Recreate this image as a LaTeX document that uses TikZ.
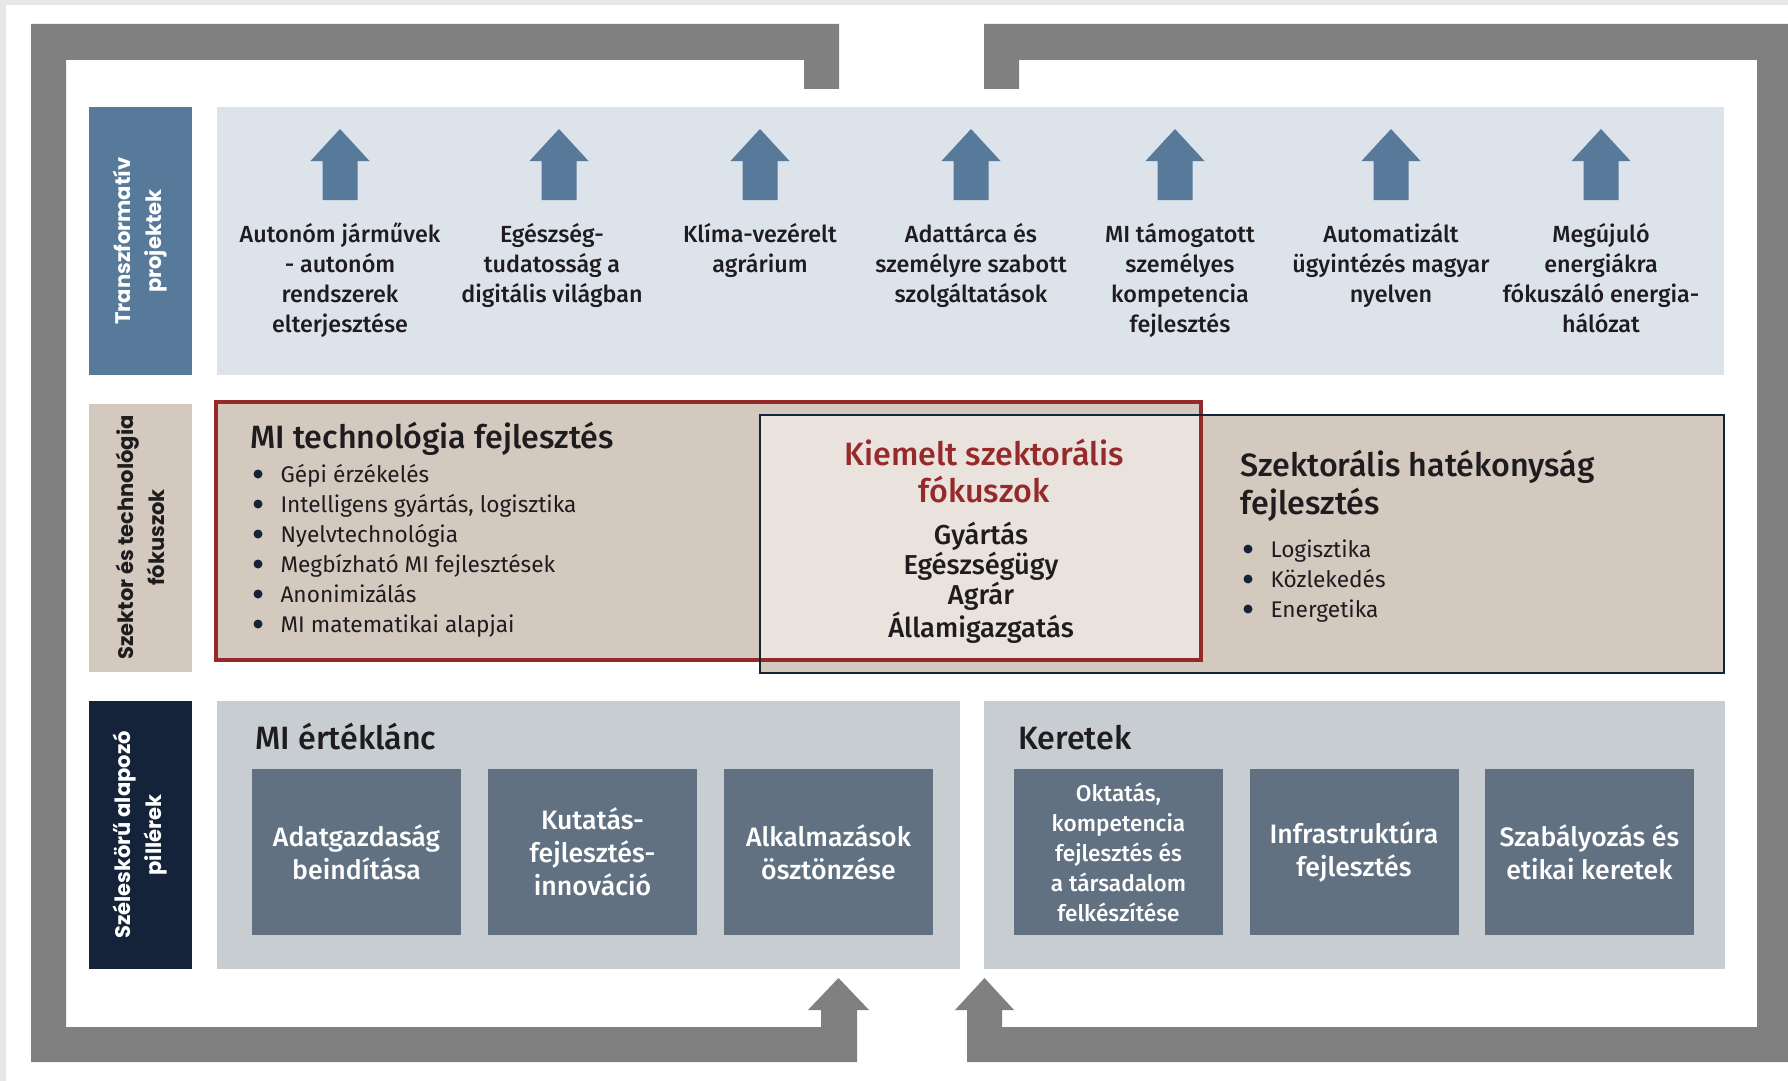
\documentclass[tikz,border=0pt]{standalone}
\usepackage{fontspec}
\setmainfont{Fira Sans}
\newfontfamily\medfont{Fira Sans Medium}
\newfontfamily\lblfont{Poppins}

\definecolor{pagegray}{RGB}{232,230,231}
\definecolor{framegray}{RGB}{128,128,128}
\definecolor{projblue}{RGB}{88,122,154}
\definecolor{projpanel}{RGB}{220,227,234}
\definecolor{focustan}{RGB}{212,201,191}
\definecolor{focuslight}{RGB}{233,226,221}
\definecolor{focusred}{RGB}{150,42,42}
\definecolor{navyline}{RGB}{22,36,58}
\definecolor{pillarnavy}{RGB}{20,35,58}
\definecolor{pillarpanel}{RGB}{200,205,210}
\definecolor{pillarbox}{RGB}{98,113,129}
\definecolor{txtdark}{RGB}{30,28,30}

\newcommand\px{0.75pt}

\tikzset{every picture/.style={line width=0.75pt}}
\tikzset{
	side label/.style={rotate=90, fill=#1, text=white, align=center, inner sep=0,
		minimum width=268*\px, minimum height=103*\px,
		font=\lblfont\bfseries\fontsize{15.8}{23.25}\selectfont},
	proj label/.style={align=center, inner sep=0, text=txtdark,
		font=\medfont\fontsize{17.5}{22.5}\selectfont},
	group title/.style={inner sep=0, text=txtdark,
		font=\medfont\fontsize{24.2}{28.5}\selectfont},
	bullet list/.style={align=left, inner sep=0, text=txtdark,
		font=\fontsize{17}{22.5}\selectfont},
	bullet dot/.style={fill=navyline},
	pillar box/.style={fill=pillarbox, text=white, align=center, inner sep=0,
		minimum width=209*\px, minimum height=166*\px,
		font=\medfont\fontsize{20}{24.75}\selectfont}
}

\begin{document}
\begin{tikzpicture}[x=0.75pt,y=0.75pt,yscale=-1,xscale=1]
	\useasboundingbox (0,0) rectangle (1788,1081);

	%Shape: page background
	\fill[pagegray] (0,0) rectangle (1788,1081);
	\fill[white] (6,5) rectangle (1788,1081);

	%Frame: left part with arrow
	\fill[framegray] (804,89) -- (804,60) -- (66,60) -- (66,1027) -- (821,1027) -- (821,1010) -- (808,1010) -- (838.5,978) -- (869,1010) -- (857,1010) -- (857,1062) -- (31,1062) -- (31,24) -- (839,24) -- (839,89) -- cycle ;
	%Frame: right part with arrow
	\fill[framegray] (1019,89) -- (1019,60) -- (1757,60) -- (1757,1027) -- (1002,1027) -- (1002,1010) -- (1014,1010) -- (984.5,978) -- (955,1010) -- (967,1010) -- (967,1062) -- (1788,1062) -- (1788,24) -- (984,24) -- (984,89) -- cycle ;

	%Row labels
	\node[side label=projblue] (lblproj) at (140,241) {Transzformatív\\projektek};
	\node[side label=focustan] (lblfocus) at (140.5,537.5) {\color{txtdark}Szektor és technológia\\\color{txtdark}fókuszok};
	\node[side label=pillarnavy] (lblpillar) at (140.5,835) {Széleskörű alapozó\\pillérek};

	%Shape: Rectangle, projects panel
	\fill[projpanel] (217,107) rectangle (1724,375);
	%Up arrows
	\foreach \cx in {340,559,760,971,1175,1391,1601}
		\fill[projblue] (\cx-17.5,200) -- (\cx-17.5,161) -- (\cx-29.5,161) -- (\cx,129) -- (\cx+29.5,161) -- (\cx+17.5,161) -- (\cx+17.5,200) -- cycle ;

	% Text Node
	\node[proj label] (proj1) at (340,280) {Autonóm járművek\\- autonóm\\rendszerek\\elterjesztése};
	% Text Node
	\node[proj label] (proj2) at (552,265) {Egészség-\\tudatosság a\\digitális világban};
	% Text Node
	\node[proj label] (proj3) at (760,250) {Klíma-vezérelt\\agrárium};
	% Text Node
	\node[proj label] (proj4) at (971,265) {Adattárca és\\személyre szabott\\szolgáltatások};
	% Text Node
	\node[proj label] (proj5) at (1180,280) {MI támogatott\\személyes\\kompetencia\\fejlesztés};
	% Text Node
	\node[proj label] (proj6) at (1391,265) {Automatizált\\ügyintézés magyar\\nyelven};
	% Text Node
	\node[proj label] (proj7) at (1601,278) {Megújuló\\energiákra\\fókuszáló energia-\\hálózat};

	%Shape: focus boxes
	\fill[focustan] (216,402) rectangle (1201,660);
	\fill[focustan] (760,415) rectangle (1724,673);
	\fill[focuslight] (760,415) rectangle (1201,660);
	\draw[focusred, line width=2.6] (216,402) rectangle (1201,660);
	\draw[navyline, line width=2.2] (760,415) rectangle (1724,673);

	% Text Node
	\node[group title, anchor=base west] (techtitle) at (250,448) {MI technológia fejlesztés};
	\node[bullet list, anchor=west] (techlist) at (280,551) {Gépi érzékelés\\Intelligens gyártás, logisztika\\Nyelvtechnológia\\Megbízható MI fejlesztések\\Anonimizálás\\MI matematikai alapjai};
	\foreach \y in {474,504,534,564,594,624}
		\fill[bullet dot] (258,\y) circle (4.5);
	% Text Node
	\node[group title, align=center, text=focusred, font=\medfont\fontsize{24.2}{27.75}\selectfont] (keytitle) at (984,471) {Kiemelt szektorális\\fókuszok};
	\node[proj label, font=\medfont\fontsize{20.5}{22.5}\selectfont] (keylist) at (981,583) {Gyártás\\Egészségügy\\Agrár\\Államigazgatás};
	% Text Node
	\node[group title, align=left, anchor=west] (sectitle) at (1240,486) {Szektorális hatékonyság\\fejlesztés};
	\node[bullet list, anchor=west] (seclist) at (1270,581) {Logisztika\\Közlekedés\\Energetika};
	\foreach \y in {549,579,609}
		\fill[bullet dot] (1248,\y) circle (4.5);

	%Shape: pillar panels
	\fill[pillarpanel] (217,701) rectangle (960,969);
	\fill[pillarpanel] (984,701) rectangle (1725,969);

	% Text Node
	\node[group title, anchor=base west] (chaintitle) at (255,749) {MI értéklánc};
	\node[pillar box] (chain1) at (356.5,852) {Adatgazdaság\\beindítása};
	\node[pillar box] (chain2) at (592.5,852) {Kutatás-\\fejlesztés-\\innováció};
	\node[pillar box] (chain3) at (828.5,852) {Alkalmazások\\ösztönzése};

	% Text Node
	\node[group title, anchor=base west] (frametitle) at (1018,749) {Keretek};
	\node[pillar box, font=\medfont\fontsize{17}{22.5}\selectfont] (frame1) at (1118.5,852) {Oktatás,\\kompetencia\\fejlesztés és\\a társadalom\\felkészítése};
	\node[pillar box] (frame2) at (1354,852) {Infrastruktúra\\fejlesztés};
	\node[pillar box] (frame3) at (1589.5,852) {Szabályozás és\\etikai keretek};

\end{tikzpicture}
\end{document}
